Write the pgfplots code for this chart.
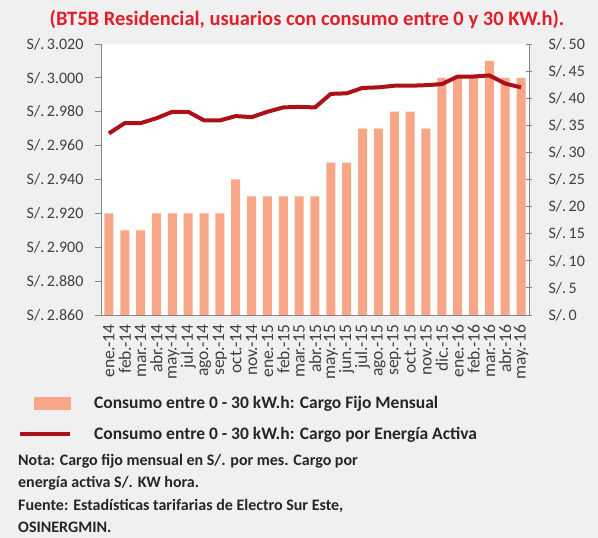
\documentclass[border=0pt]{standalone}
\usepackage{pgfplots}
\usepackage{pgfplotstable}
\pgfplotsset{compat=1.18}
\usepackage{fontspec}
\setmainfont{Carlito}

\definecolor{bgray}{RGB}{240,240,240}
\definecolor{barc}{RGB}{247,167,135}
\definecolor{linec}{RGB}{174,16,24}
\definecolor{titlec}{RGB}{226,30,40}
\definecolor{axc}{RGB}{134,134,134}
\definecolor{tickc}{RGB}{64,64,64}

% fijo: S/. por mes, energia: S/. por kW.h (eje derecho)
\pgfplotstableread{
x fijo energia
0  2.920 33.5
1  2.910 35.4
2  2.910 35.4
3  2.920 36.3
4  2.920 37.5
5  2.920 37.5
6  2.920 35.9
7  2.920 35.9
8  2.940 36.7
9  2.930 36.5
10 2.930 37.5
11 2.930 38.3
12 2.930 38.4
13 2.930 38.3
14 2.950 40.8
15 2.950 40.9
16 2.970 41.9
17 2.970 42.0
18 2.980 42.3
19 2.980 42.3
20 2.970 42.4
21 3.000 42.6
22 3.000 44.0
23 3.000 44.0
24 3.010 44.2
25 3.000 42.7
26 3.000 42.0
}\datatable

\begin{document}
\begin{tikzpicture}
\fill[bgray] (-101pt,-223pt) rectangle (497pt,315pt);
\pgfplotsset{
  common/.style={
    width=428pt, height=271pt, scale only axis,
    xmin=-0.5, xmax=26.5,
    /pgf/number format/assume math mode=true,
    axis line style={axc, line width=0.8pt},
    tick style={axc, line width=0.8pt},
    major tick length=6pt,
    tick label style={tickc, font=\fontsize{16}{18}\selectfont},
  }
}
\begin{axis}[common,
  axis background/.style={fill=white},
  ybar, bar width=9pt,
  ymin=2.86, ymax=3.02,
  ytick={2.86,2.88,2.90,2.92,2.94,2.96,2.98,3.00,3.02},
  yticklabel={S/.\,\pgfmathprintnumber[fixed,fixed zerofill,precision=3]{\tick}},
  yticklabel style={xshift=-8pt},
  axis x line*=bottom, axis y line*=left,
  ytick align=outside,
  xtick={0,...,26},
  xtick style={draw=none},
  xticklabels={ene.-14,feb.-14,mar.-14,abr.-14,may.-14,jul.-14,ago.-14,sep.-14,oct.-14,nov.-14,ene.-15,feb.-15,mar.-15,abr.-15,may.-15,jun.-15,jul.-15,ago.-15,sep.-15,oct.-15,nov.-15,dic.-15,ene.-16,feb.-16,mar.-16,abr.-16,may.-16},
  x tick label style={rotate=90, anchor=east, font=\fontsize{17.5}{19}\selectfont},
]
\addplot[fill=barc, draw=none] table[x=x, y=fijo]{\datatable};
\end{axis}
\begin{axis}[common,
  ymin=0, ymax=50,
  ytick={0,5,...,50},
  yticklabel={S/.\,\pgfmathprintnumber{\tick}},
  yticklabel style={xshift=13pt},
  axis y line*=right, axis x line=none,
  ytick align=center,
  legend style={at={(-0.201,-0.285)}, anchor=north west, draw=none, fill=none,
    font=\bfseries\fontsize{17.5}{20}\selectfont, text=black!85, row sep=13pt,
    /tikz/every odd column/.append style={column sep=20pt}},
  legend cell align=left,
]
\addlegendimage{legend image code/.code={\fill[barc] (14pt,-6pt) rectangle (50pt,6pt);}}
\addlegendentry{Consumo entre 0 - 30 kW.h: Cargo Fijo Mensual}
\addplot[linec, line width=4pt, line join=round,
  legend image code/.code={\draw[linec, line width=4pt] (0pt,0pt) -- (50pt,0pt);}]
  table[x=x, y=energia]{\datatable};
\addlegendentry{Consumo entre 0 - 30 kW.h: Cargo por Energía Activa}
\end{axis}
\node[titlec, font=\bfseries\fontsize{20.5}{22}\selectfont] at (206pt,295pt)
  {(BT5B Residencial, usuarios con consumo entre 0 y 30 KW.h).};
\node[anchor=north west, align=left, inner sep=0pt, text=black!85,
  font=\bfseries\fontsize{16}{22.5}\selectfont] at (-83pt,-139pt)
  {Nota: Cargo fijo mensual en S/. por mes. Cargo por\\
   energía activa S/. KW hora.\\
   Fuente: Estadísticas tarifarias de Electro Sur Este,\\
   OSINERGMIN.};
\useasboundingbox (-101pt,-223pt) rectangle (497pt,315pt);
\end{tikzpicture}
\end{document}
